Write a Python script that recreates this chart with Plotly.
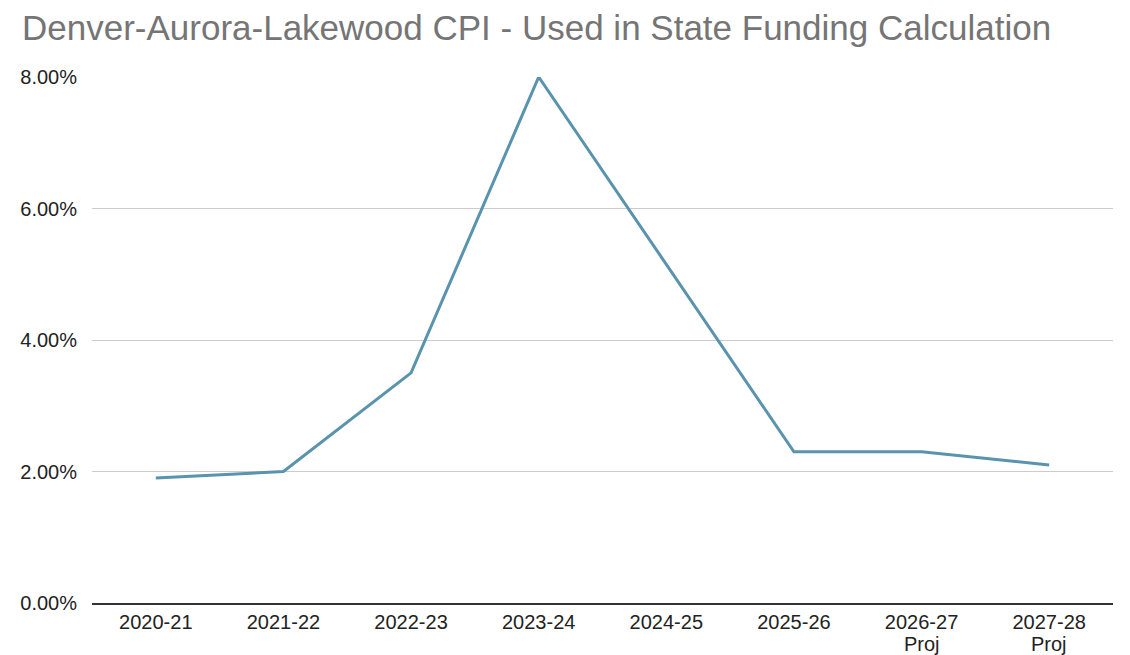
import plotly.graph_objects as go

categories = ["2020-21", "2021-22", "2022-23", "2023-24", "2024-25", "2025-26", "2026-27", "2027-28"]
sub_labels = ["", "", "", "", "", "", "Proj", "Proj"]
cpi_values = [1.9, 2.0, 3.5, 8.0, 5.15, 2.3, 2.3, 2.1]
y_ticks = [0, 2, 4, 6, 8]
y_tick_labels = ["0.00%", "2.00%", "4.00%", "6.00%", "8.00%"]
title_text = "Denver-Aurora-Lakewood CPI - Used in State Funding Calculation"

fig = go.Figure()
fig.add_trace(go.Scatter(
    x=list(range(len(categories))), y=cpi_values, mode="lines",
    line=dict(color="#5a93ae", width=3), hoverinfo="y",
))
for i, s in enumerate(sub_labels):
    if s:
        fig.add_annotation(x=i, xref="x", y=0, yref="paper", yanchor="top",
                           yshift=-28, text=s, showarrow=False,
                           font=dict(size=20, color="#222"))
fig.add_annotation(text=title_text,
                   x=(12 - 84) / (1130 - 84 - 25), xref="paper", xanchor="left",
                   y=1, yref="paper", yanchor="bottom", yshift=28,
                   showarrow=False, font=dict(size=35, color="#757575"))
fig.update_layout(
    width=1130, height=655,
    margin=dict(l=84, r=25, t=69, b=60, autoexpand=False),
    paper_bgcolor="white", plot_bgcolor="white",
    font=dict(family="Liberation Sans, Arial, sans-serif", size=20, color="#222"),
    showlegend=False,
    xaxis=dict(range=[-0.5, len(categories) - 0.5], tickmode="array",
               tickvals=list(range(len(categories))), ticktext=categories,
               showgrid=False, showline=True, linecolor="#333", linewidth=2,
               ticks="", zeroline=False,
               tickfont=dict(size=20, color="#222")),
    yaxis=dict(range=[0, 8], tickmode="array", tickvals=y_ticks, ticktext=y_tick_labels,
               showgrid=True, gridcolor="#cccccc", gridwidth=1, zeroline=False,
               showline=False, ticks="outside", ticklen=10, tickcolor="rgba(0,0,0,0)",
               tickfont=dict(size=20, color="#222")),
)
fig.write_html("out.html")
